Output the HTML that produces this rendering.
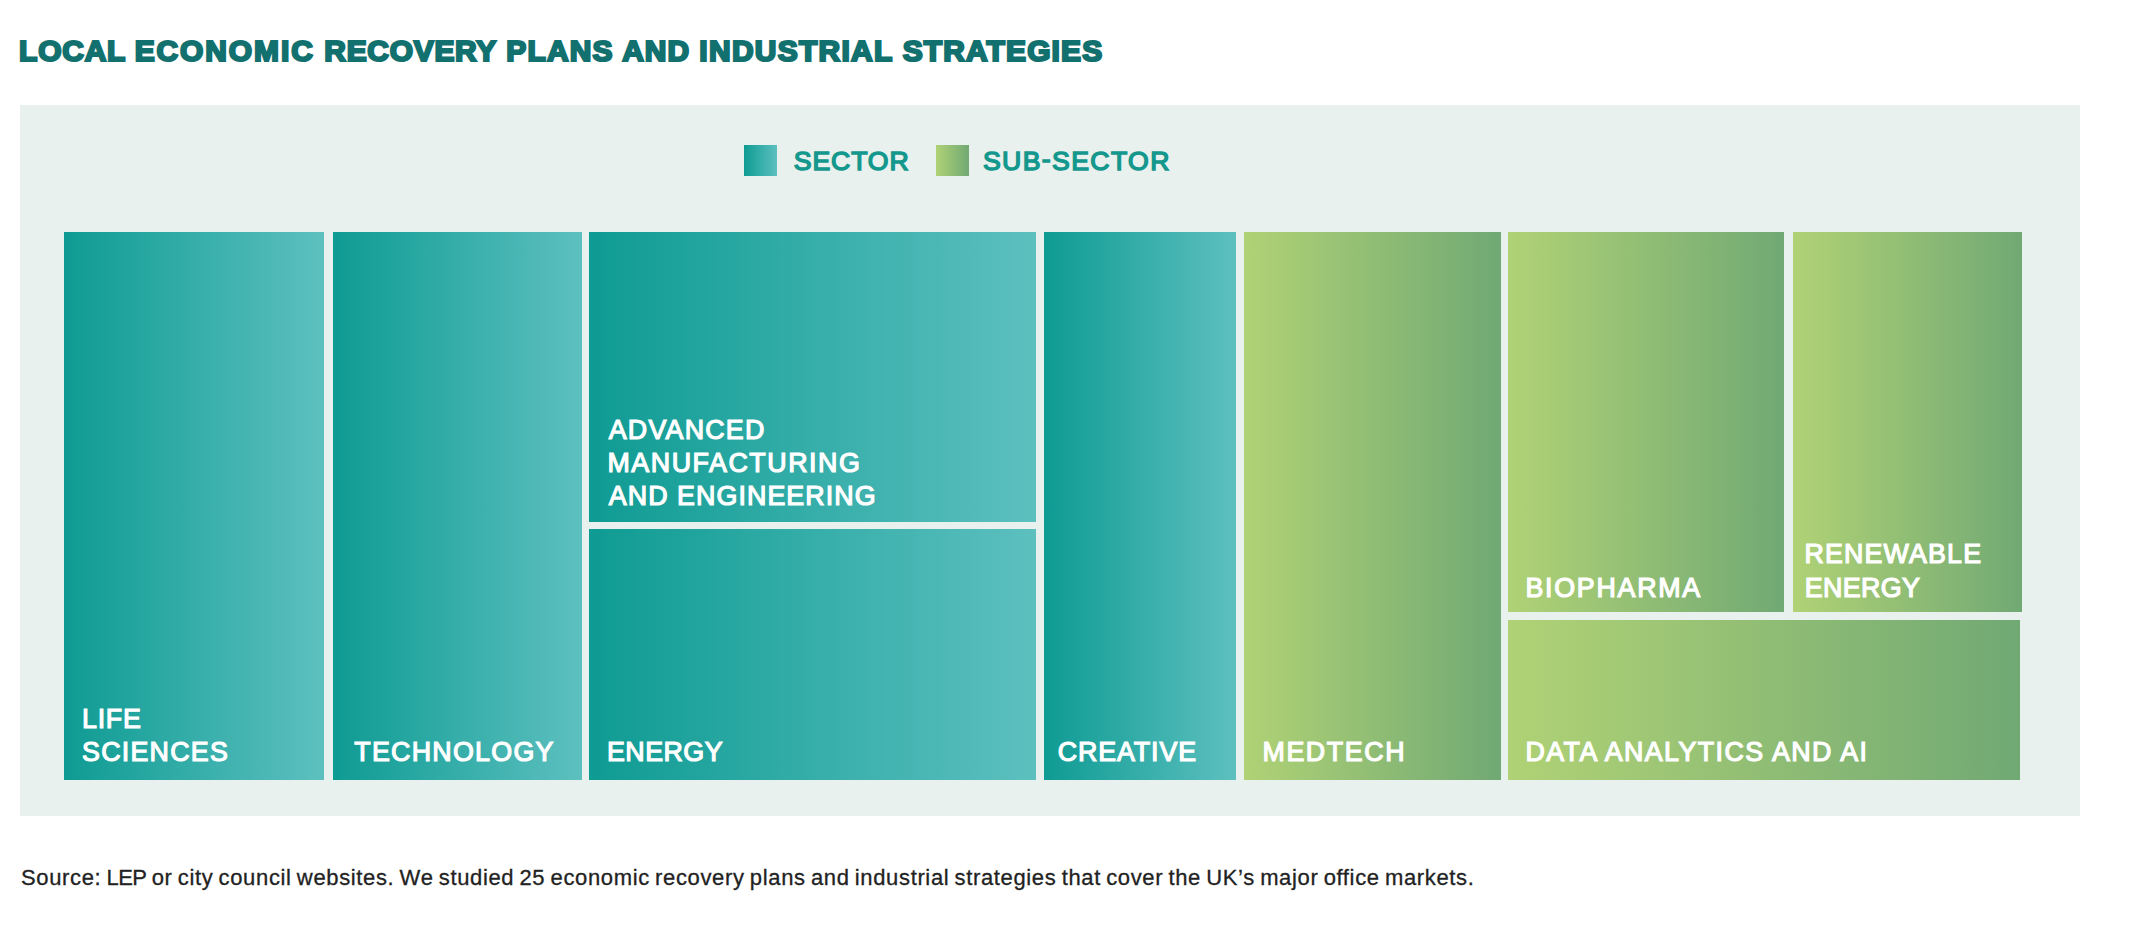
<!DOCTYPE html>
<html><head><meta charset="utf-8">
<style>
html,body{margin:0;padding:0;background:#fff;}
body{width:2135px;height:931px;position:relative;overflow:hidden;font-family:"Liberation Sans",sans-serif;}
.abs{position:absolute;}
#title{left:0;top:0;}
#title text{font-family:"Liberation Sans",sans-serif;font-weight:bold;}
#panel{left:19.5px;top:105.3px;width:2060.6px;height:710.7px;background:#e9f1ee;}
.box{position:absolute;}
.teal{background:linear-gradient(90deg,#0e9b93 0%,#5dc0bf 100%);}
.green{background:linear-gradient(90deg,#b0d275 0%,#71a974 100%);}
.ln{position:absolute;color:#fff;font-size:26.8px;font-weight:normal;line-height:33px;white-space:nowrap;-webkit-text-stroke:1.2px currentColor;}
.ln{transform-origin:0 0;}
.leg .ln{transform:none;color:#14988d;font-size:26.6px;-webkit-text-stroke-width:1.5px;}
#src{left:20.7px;top:865px;font-size:22px;letter-spacing:0.645px;word-spacing:-1.5px;line-height:24px;color:#222;white-space:nowrap;-webkit-text-stroke:0.3px #222;transform:translateY(0.5px) rotate(0.001deg);transform-origin:0 0;}
</style></head><body>
<svg id="title" class="abs" width="1200" height="100" viewBox="0 0 1200 100"><text transform="scale(1.035,1)" y="61.0" font-size="28.9" fill="#12706e" stroke="#12706e" stroke-width="2.2" stroke-linejoin="miter" stroke-miterlimit="2.2"><tspan class="tw" id="W_LOCAL" x="18.46" letter-spacing="0.792">LOCAL</tspan> <tspan class="tw" id="W_ECONOMIC" x="130.08" letter-spacing="1.885">ECONOMIC</tspan> <tspan class="tw" id="W_RECOVERY" x="313.34" letter-spacing="0.72">RECOVERY</tspan> <tspan class="tw" id="W_PLANS" x="489.21" letter-spacing="1.127">PLANS</tspan> <tspan class="tw" id="W_AND" x="601.13" letter-spacing="1.071">AND</tspan> <tspan class="tw" id="W_INDUSTRIAL" x="675.71" letter-spacing="1.267">INDUSTRIAL</tspan> <tspan class="tw" id="W_STRATEGIES" x="872.23" letter-spacing="1.128">STRATEGIES</tspan></text></svg>
<div id="panel" class="abs"></div>

<div class="box teal" style="left:744px;top:145px;width:33px;height:31px"></div>
<div class="leg"><span class="ln" id="SECTOR" style="left:793.75px;top:144.9px;letter-spacing:0.91px">SECTOR</span></div>
<div class="box green" style="left:936px;top:145px;width:33px;height:31px"></div>
<div class="leg"><span class="ln" id="SUBSECTOR" style="left:983.0px;top:144.9px;letter-spacing:1.384px">SUB<span style="position:relative;top:-2px">-</span>SECTOR</span></div>

<div class="box teal" style="left:64px;top:232px;width:260px;height:548px"></div>
<div class="box teal" style="left:332.5px;top:232px;width:249.5px;height:548px"></div>
<div class="box teal" style="left:589px;top:232px;width:447px;height:290px"></div>
<div class="box teal" style="left:589px;top:529px;width:447px;height:251px"></div>
<div class="box teal" style="left:1044px;top:232px;width:192px;height:548px"></div>
<div class="box green" style="left:1244px;top:232px;width:256.7px;height:548px"></div>
<div class="box green" style="left:1508px;top:232px;width:276px;height:380px"></div>
<div class="box green" style="left:1793px;top:232px;width:229px;height:380px"></div>
<div class="box green" style="left:1508px;top:620px;width:512px;height:159.5px"></div>

<div><span class="ln" id="LIFE" style="left:81px;top:703px;letter-spacing:0.78px;transform:translate(0.95px,0.15px) rotate(0.001deg)">LIFE</span> <span class="ln" id="SCIENCES" style="left:82px;top:736px;letter-spacing:1.262px;transform:translate(0.0px,0.07px) rotate(0.001deg)">SCIENCES</span></div>
<div><span class="ln" id="TECHNOLOGY" style="left:354px;top:736px;letter-spacing:1.275px;transform:translate(0.3px,0.07px) rotate(0.001deg)">TECHNOLOGY</span></div>
<div><span class="ln" id="ADVANCED" style="left:608px;top:414px;letter-spacing:1.232px;transform:translate(0.75px,0.2px) rotate(0.001deg)">ADVANCED</span> <span class="ln" id="MANUFACTURING" style="left:607px;top:447px;letter-spacing:1.549px;transform:translate(0.45px,0.07px) rotate(0.001deg)">MANUFACTURING</span> <span class="ln" id="ANDENG" style="left:608px;top:480px;letter-spacing:1.086px;transform:translate(0.75px,0.15px) rotate(0.001deg)">AND ENGINEERING</span></div>
<div><span class="ln" id="ENERGY" style="left:607px;top:736px;letter-spacing:0.47px;transform:translate(0.0px,0.2px) rotate(0.001deg)">ENERGY</span></div>
<div><span class="ln" id="CREATIVE" style="left:1057px;top:736px;letter-spacing:0.893px;transform:translate(0.75px,0.2px) rotate(0.001deg)">CREATIVE</span></div>
<div><span class="ln" id="MEDTECH" style="left:1262px;top:736px;letter-spacing:1.583px;transform:translate(0.5px,0.2px) rotate(0.001deg)">MEDTECH</span></div>
<div><span class="ln" id="BIOPHARMA" style="left:1525px;top:572px;letter-spacing:1.732px;transform:translate(0.5px,0.4px) rotate(0.001deg)">BIOPHARMA</span></div>
<div><span class="ln" id="RENEWABLE" style="left:1804px;top:538px;letter-spacing:1.156px;transform:translate(0.5px,0.1px) rotate(0.001deg)">RENEWABLE</span> <span class="ln" id="ENERGY2" style="left:1804px;top:572px;letter-spacing:0.38px;transform:translate(0.8px,0.4px) rotate(0.001deg)">ENERGY</span></div>
<div><span class="ln" id="DATA" style="left:1525px;top:736px;letter-spacing:1.434px;transform:translate(0.5px,0.07px) rotate(0.001deg)">DATA ANALYTICS AND AI</span></div>

<div id="src" class="abs">Source: <span style="letter-spacing:-0.6px">LEP</span> or city council websites. We studied 25 economic recovery plans and industrial strategies that cover the UK’s major office markets.</div>
</body></html>
